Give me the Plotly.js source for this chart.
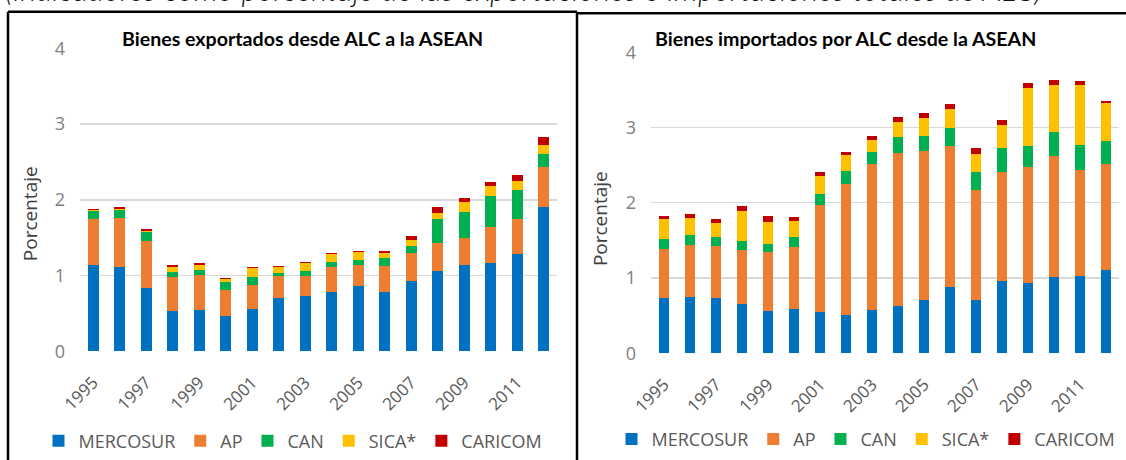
<!DOCTYPE html>
<html><head><meta charset="utf-8">
<script src="https://cdn.plot.ly/plotly-3.0.1.min.js"></script>
<style>html,body{margin:0;padding:0;background:#fff;overflow:hidden}</style>
</head><body><div id="chart" style="width:1126px;height:460px"></div>
<script>
const years = ['1995','1996','1997','1998','1999','2000','2001','2002','2003','2004','2005','2006','2007','2008','2009','2010','2011','2012'];
const tickYears = ['1995','1997','1999','2001','2003','2005','2007','2009','2011'];
const yTicks = [0, 1, 2, 3, 4];
const seriesNames = ['MERCOSUR', 'AP', 'CAN', 'SICA*', 'CARICOM'];
const seriesColors = ['#0070C0', '#ED7D31', '#00B050', '#FFC000', '#C00000'];

// Bienes exportados desde ALC a la ASEAN
const expMERCOSUR = [1.14,1.11,0.83,0.53,0.54,0.47,0.56,0.71,0.73,0.78,0.86,0.78,0.93,1.06,1.14,1.16,1.28,1.91];
const expAP       = [0.61,0.65,0.63,0.45,0.47,0.34,0.32,0.28,0.27,0.33,0.28,0.35,0.37,0.37,0.35,0.48,0.47,0.53];
const expCAN      = [0.10,0.10,0.12,0.07,0.065,0.10,0.10,0.05,0.06,0.07,0.07,0.10,0.09,0.32,0.35,0.41,0.38,0.17];
const expSICA     = [0.015,0.02,0.01,0.065,0.065,0.05,0.12,0.07,0.10,0.10,0.10,0.07,0.08,0.08,0.135,0.13,0.12,0.11];
const expCARICOM  = [0.015,0.02,0.02,0.02,0.02,0.015,0.02,0.02,0.02,0.02,0.02,0.02,0.05,0.07,0.05,0.06,0.08,0.11];

// Bienes importados por ALC desde la ASEAN
const impMERCOSUR = [0.73,0.75,0.73,0.65,0.56,0.59,0.55,0.51,0.58,0.63,0.71,0.88,0.71,0.96,0.93,1.01,1.03,1.11];
const impAP       = [0.65,0.69,0.70,0.72,0.79,0.82,1.42,1.74,1.93,2.03,1.98,1.88,1.46,1.445,1.54,1.61,1.41,1.41];
const impCAN      = [0.135,0.135,0.12,0.12,0.10,0.135,0.15,0.17,0.165,0.21,0.20,0.235,0.235,0.32,0.28,0.32,0.33,0.30];
const impSICA     = [0.265,0.22,0.18,0.40,0.30,0.22,0.24,0.21,0.165,0.205,0.235,0.25,0.25,0.315,0.77,0.62,0.80,0.50];
const impCARICOM  = [0.04,0.05,0.05,0.07,0.08,0.05,0.05,0.05,0.05,0.065,0.07,0.07,0.08,0.065,0.07,0.07,0.05,0.035];

const titleLeft = 'Bienes exportados desde ALC a la ASEAN';
const titleRight = 'Bienes importados por ALC desde la ASEAN';
const yTitle = 'Porcentaje';
const topNote = '(Indicadores como porcentaje de las exportaciones e importaciones totales de ALC)';

const W = 1126, H = 460;
const px = v => v / W;
const py = v => (H - v) / H;

const expSeries = [expMERCOSUR, expAP, expCAN, expSICA, expCARICOM];
const impSeries = [impMERCOSUR, impAP, impCAN, impSICA, impCARICOM];

const traces = [];
expSeries.forEach((vals, i) => traces.push({
  type: 'bar', x: years, y: vals, name: seriesNames[i], xaxis: 'x', yaxis: 'y',
  marker: {color: seriesColors[i], line: {width: 0}}, legend: 'legend', hoverinfo: 'skip'
}));
impSeries.forEach((vals, i) => traces.push({
  type: 'bar', x: years, y: vals, name: seriesNames[i], xaxis: 'x2', yaxis: 'y2',
  marker: {color: seriesColors[i], line: {width: 0}}, legend: 'legend2', hoverinfo: 'skip'
}));

const tickFontY = {family: 'Open Sans, sans-serif', size: 18, color: '#808080'};
const tickFontX = {family: 'Open Sans, sans-serif', size: 17, color: '#595959'};
const legendFont = {family: 'Open Sans, sans-serif', size: 18, color: '#595959'};

function xAxis(domain, anchor) {
  return {domain: domain, anchor: anchor, type: 'category', range: [-0.5, 17.5],
    tickmode: 'array', tickvals: tickYears, ticktext: tickYears, tickangle: -45,
    showgrid: false, zeroline: false, showline: false, ticks: '', tickfont: tickFontX,
    ticklabelstandoff: 17, fixedrange: true};
}
function yAxis(domain, anchor) {
  return {domain: domain, anchor: anchor, range: [0, 4], tickmode: 'array', tickvals: yTicks,
    showgrid: true, gridcolor: '#d9d9d9', gridwidth: 1.3, zeroline: false, showline: false,
    ticks: '', tickfont: tickFontY, ticklabelstandoff: 14, fixedrange: true};
}

const layout = {
  width: W, height: H, margin: {l: 0, r: 0, t: 0, b: 0},
  paper_bgcolor: '#fff', plot_bgcolor: 'rgba(0,0,0,0)',
  barmode: 'stack', bargap: 0.6, showlegend: true,
  xaxis: xAxis([px(80), px(557)], 'y'),
  yaxis: yAxis([py(356), py(49)], 'x'),
  xaxis2: xAxis([px(651), px(1119)], 'y2'),
  yaxis2: yAxis([py(358), py(53)], 'x2'),
  legend: {orientation: 'h', x: px(293), xanchor: 'center', y: py(447), yanchor: 'middle',
    font: legendFont, traceorder: 'normal', bgcolor: 'rgba(0,0,0,0)'},
  legend2: {orientation: 'h', x: px(866), xanchor: 'center', y: py(445), yanchor: 'middle',
    font: legendFont, traceorder: 'normal', bgcolor: 'rgba(0,0,0,0)'},
  annotations: [
    {text: titleLeft, xref: 'paper', yref: 'paper', x: px(120), y: py(39), xanchor: 'left', yanchor: 'middle',
      showarrow: false, font: {family: 'Lato, sans-serif', size: 19.6, color: '#000', weight: 'bold'}},
    {text: titleRight, xref: 'paper', yref: 'paper', x: px(653), y: py(39), xanchor: 'left', yanchor: 'middle',
      showarrow: false, font: {family: 'Lato, sans-serif', size: 19.6, color: '#000', weight: 'bold'}},
    {text: yTitle, xref: 'paper', yref: 'paper', x: px(30), y: py(216), xanchor: 'center', yanchor: 'middle',
      textangle: -90, showarrow: false, font: {family: 'Open Sans, sans-serif', size: 19, color: '#404040'}},
    {text: yTitle, xref: 'paper', yref: 'paper', x: px(600), y: py(222), xanchor: 'center', yanchor: 'middle',
      textangle: -90, showarrow: false, font: {family: 'Open Sans, sans-serif', size: 19, color: '#404040'}},
    {text: topNote, xref: 'paper', yref: 'paper', x: px(3), y: py(10), xanchor: 'left', yanchor: 'bottom',
      showarrow: false, font: {family: 'Lato, sans-serif', size: 31, color: '#111', style: 'italic', weight: 300}}
  ],
  shapes: [
    {type: 'line', xref: 'paper', yref: 'paper', x0: px(8), x1: px(8), y0: py(12), y1: py(470), line: {color: '#000', width: 2.5}},
    {type: 'line', xref: 'paper', yref: 'paper', x0: px(577), x1: px(577), y0: py(12), y1: py(470), line: {color: '#000', width: 2.5}},
    {type: 'line', xref: 'paper', yref: 'paper', x0: px(8), x1: px(577), y0: py(12), y1: py(12), line: {color: '#000', width: 2.5}},
    {type: 'line', xref: 'paper', yref: 'paper', x0: px(577), x1: px(1130), y0: py(13.5), y1: py(13.5), line: {color: '#000', width: 2.5}}
  ]
};

Plotly.newPlot('chart', traces, layout, {staticPlot: true, displayModeBar: false});
</script></body></html>
